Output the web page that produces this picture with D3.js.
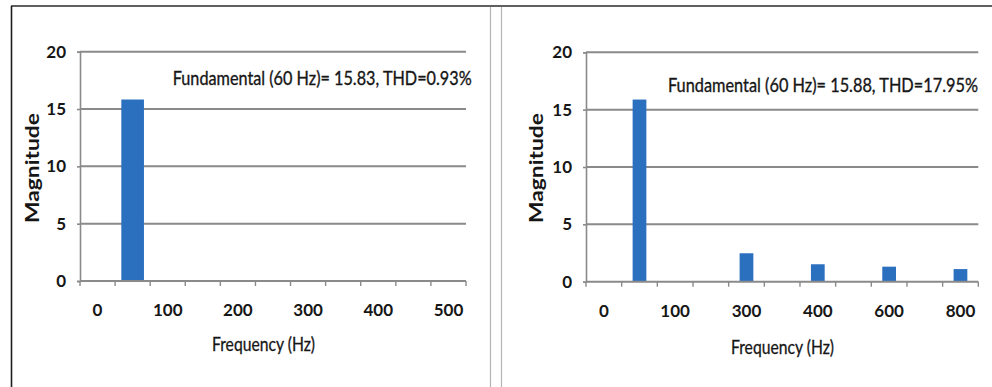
<!DOCTYPE html>
<html>
<head>
<meta charset="utf-8">
<script src="https://cdn.jsdelivr.net/npm/d3@7"></script>
<style>
  html, body { margin: 0; padding: 0; background: #fff; }
  svg { display: block; }
  text { font-family: Lato, "Open Sans", sans-serif; fill: #161616; }
</style>
</head>
<body>
<svg id="chart" width="992" height="387"></svg>
<script>
// Harmonic spectra, one array per panel
const leftCategories  = ["0", "60", "100", "150", "200", "250", "300", "350", "400", "450", "500"];
const leftValues      = [0, 15.83, 0, 0, 0, 0, 0, 0, 0, 0, 0];
const rightCategories = ["0", "60", "100", "200", "300", "350", "400", "500", "600", "700", "800"];
const rightValues     = [0, 15.88, 0, 0, 2.48, 0, 1.52, 0, 1.31, 0, 1.1];
const yTicks = [0, 5, 10, 15, 20];
const leftNote  = "Fundamental (60 Hz)= 15.83, THD=0.93%";
const rightNote = "Fundamental (60 Hz)= 15.88, THD=17.95%";
const yTitle = "Magnitude";
const xTitle = "Frequency (Hz)";

const svg = d3.select("#chart");
const barColor = "#2b6fbf";
const gridColor = "#8a8a8a";
const textColor = "#161616";
const fontStack = "Lato, \"Open Sans\", sans-serif";

// Frame: dark top and left rules, pale double divider between panels
svg.append("line").attr("x1", 11).attr("x2", 992).attr("y1", 6).attr("y2", 6)
  .attr("stroke", "#2a2a2a").attr("stroke-width", 1.6);
svg.append("line").attr("x1", 11.5).attr("x2", 11.5).attr("y1", 6).attr("y2", 387)
  .attr("stroke", "#1f1f1f").attr("stroke-width", 1.6);
[490.5, 501.5].forEach(x => {
  svg.append("line").attr("x1", x).attr("x2", x).attr("y1", 7).attr("y2", 387)
    .attr("stroke", "#b4b4b4").attr("stroke-width", 1.2);
});

const panels = [
  { cats: leftCategories, vals: leftValues, note: leftNote,
    noteX: 172.7, noteY: 85, noteW: 299,
    x0: 80, x1: 466, yTop: 51.7, yBot: 281, barRatio: 0.645,
    titleYX: 39, xTitleX: 263.5, xTitleY: 351, xTitleW: 103 },
  { cats: rightCategories, vals: rightValues, note: rightNote,
    noteX: 668, noteY: 91.5, noteW: 310,
    x0: 586, x1: 978.3, yTop: 52.3, yBot: 281.7, barRatio: 0.385,
    titleYX: 543, xTitleX: 782.5, xTitleY: 354, xTitleW: 103 }
];

panels.forEach(p => {
  const g = svg.append("g");
  const y = d3.scaleLinear().domain([0, 20]).range([p.yBot, p.yTop]);
  const cat = d3.scaleBand().domain(p.cats).range([p.x0, p.x1]).padding(0);
  const pad = 1 - p.barRatio;
  const bar = d3.scaleBand().domain(p.cats).range([p.x0, p.x1])
    .paddingInner(pad).paddingOuter(pad / 2);

  // Horizontal gridlines
  g.append("g").selectAll("line").data(yTicks.filter(v => v > 0)).join("line")
    .attr("x1", p.x0).attr("x2", p.x1)
    .attr("y1", d => y(d)).attr("y2", d => y(d))
    .attr("stroke", gridColor).attr("stroke-width", 2);

  // Y axis
  const yAxis = g.append("g").attr("transform", `translate(${p.x0},0)`)
    .call(d3.axisLeft(y).tickValues(yTicks).tickSize(3).tickPadding(11));
  yAxis.select(".domain").attr("stroke", gridColor).attr("stroke-width", 1.6);
  yAxis.selectAll(".tick line").attr("stroke", gridColor).attr("stroke-width", 1.6);
  yAxis.selectAll(".tick text")
    .attr("font-size", 17).attr("font-weight", 700)
    .attr("font-family", fontStack).attr("fill", textColor);

  // Bars
  g.append("g").selectAll("rect").data(p.cats.map((c, i) => ({ c, v: p.vals[i] })).filter(d => d.v > 0))
    .join("rect")
    .attr("x", d => bar(d.c)).attr("width", bar.bandwidth())
    .attr("y", d => y(d.v)).attr("height", d => y(0) - y(d.v))
    .attr("fill", barColor);

  // X axis: ticks at category boundaries, labels on every other category
  const xAxis = g.append("g").attr("transform", `translate(0,${p.yBot})`)
    .call(d3.axisBottom(cat).tickSize(0).tickPadding(23)
      .tickFormat((d, i) => (i % 2 === 0 ? d : "")));
  xAxis.select(".domain").remove();
  xAxis.selectAll(".tick text")
    .attr("font-size", 17).attr("font-weight", 700)
    .attr("font-family", fontStack).attr("fill", textColor);
  g.append("line").attr("x1", p.x0).attr("x2", p.x1)
    .attr("y1", p.yBot).attr("y2", p.yBot)
    .attr("stroke", gridColor).attr("stroke-width", 2);
  const bounds = p.cats.map(c => cat(c)).concat([p.x1]);
  g.append("g").selectAll("line").data(bounds).join("line")
    .attr("x1", d => d).attr("x2", d => d)
    .attr("y1", p.yBot).attr("y2", p.yBot + 5)
    .attr("stroke", gridColor).attr("stroke-width", 1.4);

  // Annotation: condensed face, stretched upright to the cap height used here
  const note = g.append("text")
    .attr("transform", `translate(${p.noteX},${p.noteY}) scale(1,1.16)`)
    .attr("font-size", 16.4)
    .attr("stroke", textColor).attr("stroke-width", 0.3)
    .text(p.note);
  const natural = note.node().getComputedTextLength();
  if (Math.abs(natural - p.noteW) > 1) {
    note.attr("textLength", p.noteW).attr("lengthAdjust", "spacingAndGlyphs");
  }

  // Axis titles
  g.append("text")
    .attr("transform", `translate(${p.titleYX},168) rotate(-90)`)
    .attr("text-anchor", "middle").attr("font-size", 18).attr("font-weight", 700)
    .attr("textLength", 110).attr("lengthAdjust", "spacingAndGlyphs")
    .text(yTitle);
  g.append("text").attr("x", p.xTitleX).attr("y", p.xTitleY)
    .attr("text-anchor", "middle").attr("font-size", 19)
    .attr("textLength", p.xTitleW).attr("lengthAdjust", "spacingAndGlyphs")
    .attr("stroke", textColor).attr("stroke-width", 0.3)
    .text(xTitle);
});
</script>
</body>
</html>
